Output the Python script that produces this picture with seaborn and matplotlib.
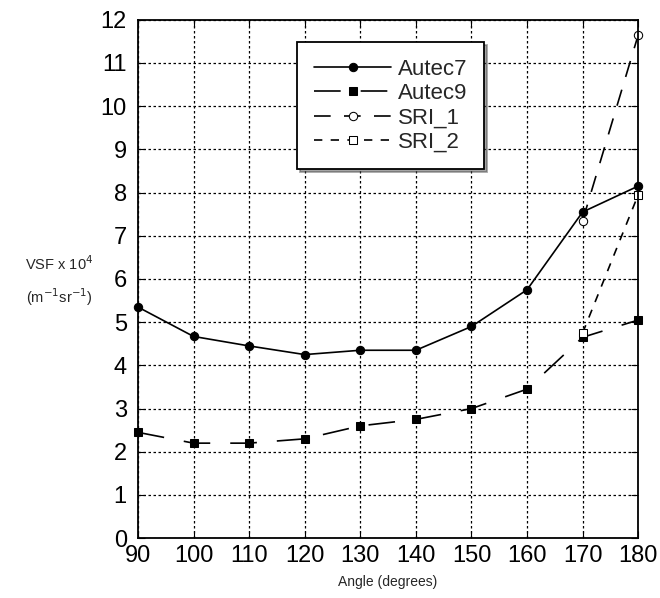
import matplotlib
matplotlib.use("Agg")
import matplotlib.pyplot as plt
import seaborn as sns

angles = [90, 100, 110, 120, 130, 140, 150, 160, 170, 180]
autec7 = [5.35, 4.67, 4.45, 4.25, 4.35, 4.35, 4.9, 5.75, 7.55, 8.15]
autec9 = [2.45, 2.2, 2.2, 2.3, 2.6, 2.75, 3.0, 3.45, 4.65, 5.05]
sri_angles = [170, 180]
sri_1 = [7.35, 11.65]
sri_2 = [4.75, 7.95]

sns.set_style("ticks")
plt.rcParams["font.family"] = ["Liberation Sans", "DejaVu Sans"]

fig = plt.figure(figsize=(6.6, 5.98), dpi=100)
ax = fig.add_axes([0.209, 0.1, 0.758, 0.867])

common = dict(ax=ax, color="black", lw=1.2, markersize=6, mec="black", clip_on=False)
sns.lineplot(x=angles, y=autec7, marker="o", mfc="black", label="Autec7", **common)
sns.lineplot(x=angles, y=autec9, linestyle=(0, (16, 12)), marker="s",
             mfc="black", label="Autec9", **common)
sns.lineplot(x=sri_angles, y=sri_1, linestyle=(0, (10, 8)), marker="o",
             mfc="white", label="SRI_1", **common)
sns.lineplot(x=sri_angles, y=sri_2, linestyle=(0, (5, 5)), marker="s",
             mfc="white", label="SRI_2", **common)

ax.set_xlim(90, 180)
ax.set_ylim(0, 12)
ax.set_xticks(range(90, 181, 10))
ax.set_yticks(range(0, 13))
ax.grid(True, color="black", linestyle=(0, (2, 2)), lw=0.9)
for s in ax.spines.values():
    s.set_visible(True)
    s.set_color("black")
    s.set_linewidth(1.3)
ax.tick_params(direction="in", length=5, labelsize=17, colors="black",
               top=True, right=True)
ax.tick_params(axis="y", pad=8)
ax.tick_params(axis="x", pad=5)

ax.set_xlabel("Angle (degrees)", fontsize=10, labelpad=6)
ax.set_ylabel("")
fig.text(0.09, 0.53, "VSF x 10$^4$\n(m$^{-1}$sr$^{-1}$)", ha="center", va="center",
         fontsize=10.5, linespacing=1.8)

leg = ax.legend(loc="upper left", bbox_to_anchor=(0.318, 0.957), borderaxespad=0,
                fontsize=16, frameon=True, fancybox=False, shadow=True,
                edgecolor="black", framealpha=1, handlelength=3.5, borderpad=0.75,
                labelspacing=0.15, handletextpad=0.3)
leg.get_frame().set_linewidth(1.3)

fig.savefig("out.png", dpi=100)
